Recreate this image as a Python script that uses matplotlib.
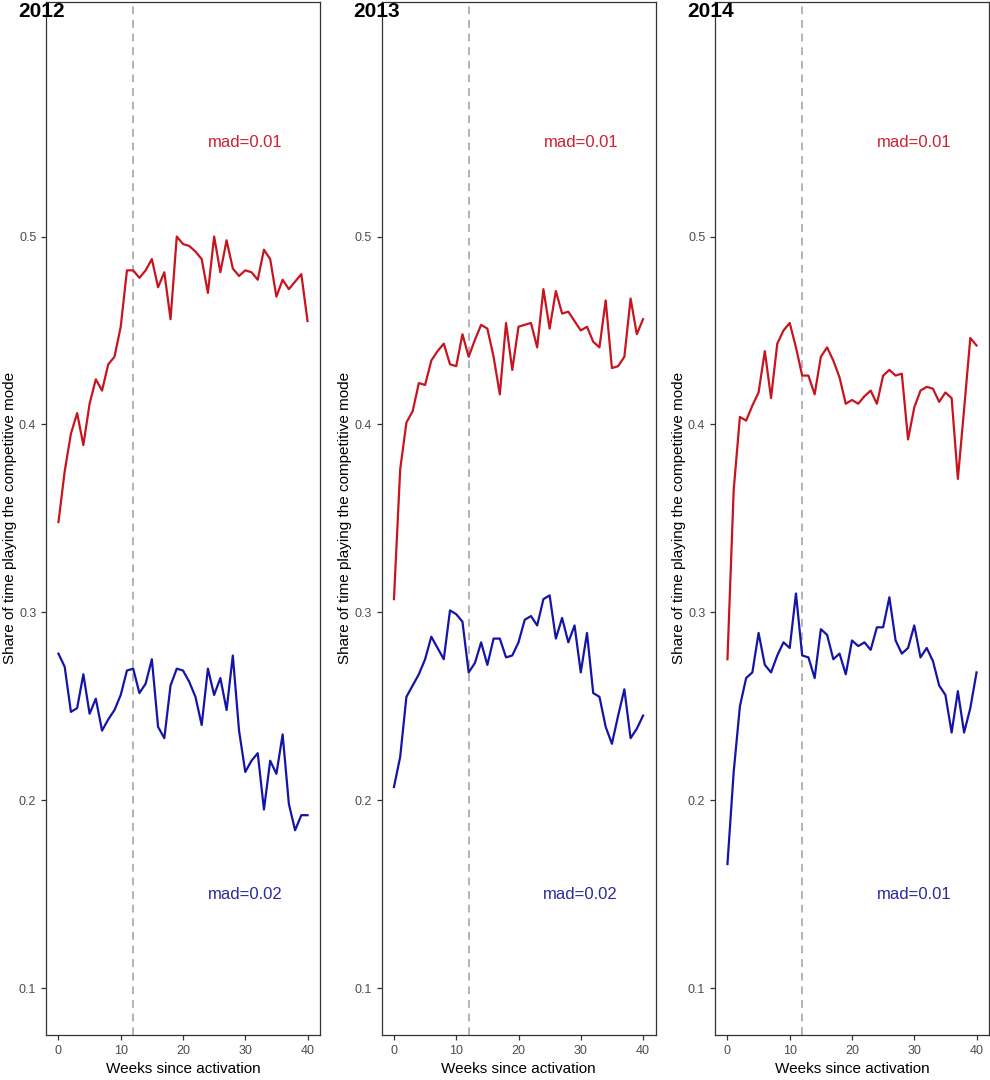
import matplotlib
matplotlib.use("Agg")
import matplotlib.pyplot as plt
import numpy as np

plt.rcParams['font.family'] = ['Liberation Sans', 'DejaVu Sans']

# weeks since activation
weeks = list(range(41))
years = ["2012", "2013", "2014"]

red_2012 = [0.348, 0.375, 0.395, 0.406, 0.389, 0.411, 0.424, 0.418, 0.432, 0.436,
            0.452, 0.482, 0.482, 0.478, 0.482, 0.488, 0.473, 0.481, 0.456, 0.500,
            0.496, 0.495, 0.492, 0.488, 0.470, 0.500, 0.481, 0.498, 0.483, 0.479,
            0.482, 0.481, 0.477, 0.493, 0.488, 0.468, 0.477, 0.472, 0.476, 0.480,
            0.455]
blue_2012 = [0.278, 0.271, 0.247, 0.249, 0.267, 0.246, 0.254, 0.237, 0.243, 0.248,
             0.256, 0.269, 0.270, 0.257, 0.262, 0.275, 0.239, 0.233, 0.261, 0.270,
             0.269, 0.263, 0.255, 0.240, 0.270, 0.256, 0.265, 0.248, 0.277, 0.237,
             0.215, 0.221, 0.225, 0.195, 0.221, 0.214, 0.235, 0.198, 0.184, 0.192,
             0.192]

red_2013 = [0.307, 0.376, 0.401, 0.407, 0.422, 0.421, 0.434, 0.439, 0.443, 0.432,
            0.431, 0.448, 0.436, 0.445, 0.453, 0.451, 0.436, 0.416, 0.454, 0.429,
            0.452, 0.453, 0.454, 0.441, 0.472, 0.451, 0.471, 0.459, 0.460, 0.455,
            0.450, 0.452, 0.444, 0.441, 0.466, 0.430, 0.431, 0.436, 0.467, 0.448,
            0.456]
blue_2013 = [0.207, 0.223, 0.255, 0.261, 0.267, 0.275, 0.287, 0.281, 0.275, 0.301,
             0.299, 0.295, 0.268, 0.273, 0.284, 0.272, 0.286, 0.286, 0.276, 0.277,
             0.284, 0.296, 0.298, 0.293, 0.307, 0.309, 0.286, 0.297, 0.284, 0.293,
             0.268, 0.289, 0.257, 0.255, 0.239, 0.230, 0.245, 0.259, 0.233, 0.238,
             0.245]

red_2014 = [0.275, 0.365, 0.404, 0.402, 0.410, 0.417, 0.439, 0.414, 0.443, 0.450,
            0.454, 0.441, 0.426, 0.426, 0.416, 0.436, 0.441, 0.434, 0.425, 0.411,
            0.413, 0.411, 0.415, 0.418, 0.411, 0.426, 0.429, 0.426, 0.427, 0.392,
            0.409, 0.418, 0.420, 0.419, 0.412, 0.417, 0.414, 0.371, 0.408, 0.446,
            0.442]
blue_2014 = [0.166, 0.215, 0.250, 0.265, 0.268, 0.289, 0.272, 0.268, 0.277, 0.284,
             0.281, 0.310, 0.277, 0.276, 0.265, 0.291, 0.288, 0.275, 0.278, 0.267,
             0.285, 0.282, 0.284, 0.280, 0.292, 0.292, 0.308, 0.285, 0.278, 0.281,
             0.293, 0.276, 0.281, 0.274, 0.261, 0.256, 0.236, 0.258, 0.236, 0.249,
             0.268]

reds = [red_2012, red_2013, red_2014]
blues = [blue_2012, blue_2013, blue_2014]
mad_red = ["mad=0.01", "mad=0.01", "mad=0.01"]
mad_blue = ["mad=0.02", "mad=0.02", "mad=0.01"]

RED = "#C8141E"
BLUE = "#1414A8"

fig = plt.figure(figsize=(9.9, 10.8), dpi=100)
W, H = 990, 1080
lefts = [46, 381.5, 715]
pw = 274
bottom, top = 1035, 1.7

for i in range(3):
    ax = fig.add_axes([lefts[i] / W, (H - bottom) / H, pw / W, (bottom - top) / H])
    ax.axvline(12, color="#B3B3B3", lw=1.4, ls=(0, (4, 3)), zorder=1)
    ax.plot(weeks, reds[i], color=RED, lw=1.6, zorder=2)
    ax.plot(weeks, blues[i], color=BLUE, lw=1.6, zorder=2)
    ax.text(30, 0.55, mad_red[i], color="#CC2233", fontsize=12, ha="center", va="center")
    ax.text(30, 0.15, mad_blue[i], color="#2B2B99", fontsize=12, ha="center", va="center")
    ax.set_xlim(-2, 42)
    ax.set_ylim(0.075, 0.625)
    ax.set_xticks([0, 10, 20, 30, 40])
    ax.set_yticks([0.1, 0.2, 0.3, 0.4, 0.5])
    ax.set_yticklabels(["0.1", "0.2", "0.3", "0.4", "0.5"])
    ax.tick_params(colors="#333333", labelcolor="#4D4D4D", labelsize=9, length=3.5, width=0.9)
    for s in ax.spines.values():
        s.set_color("#333333")
        s.set_linewidth(0.9)
    ax.set_xlabel("Weeks since activation", fontsize=11, labelpad=4)
    ax.set_ylabel("Share of time playing the competitive mode", fontsize=11)
    ax.yaxis.set_label_coords(-0.106, 0.5)
    fig.text((lefts[i] - 28) / W, 1 - 17 / H, years[i], fontsize=15, fontweight="bold",
             ha="left", va="baseline")

fig.savefig("out.png", dpi=100)
